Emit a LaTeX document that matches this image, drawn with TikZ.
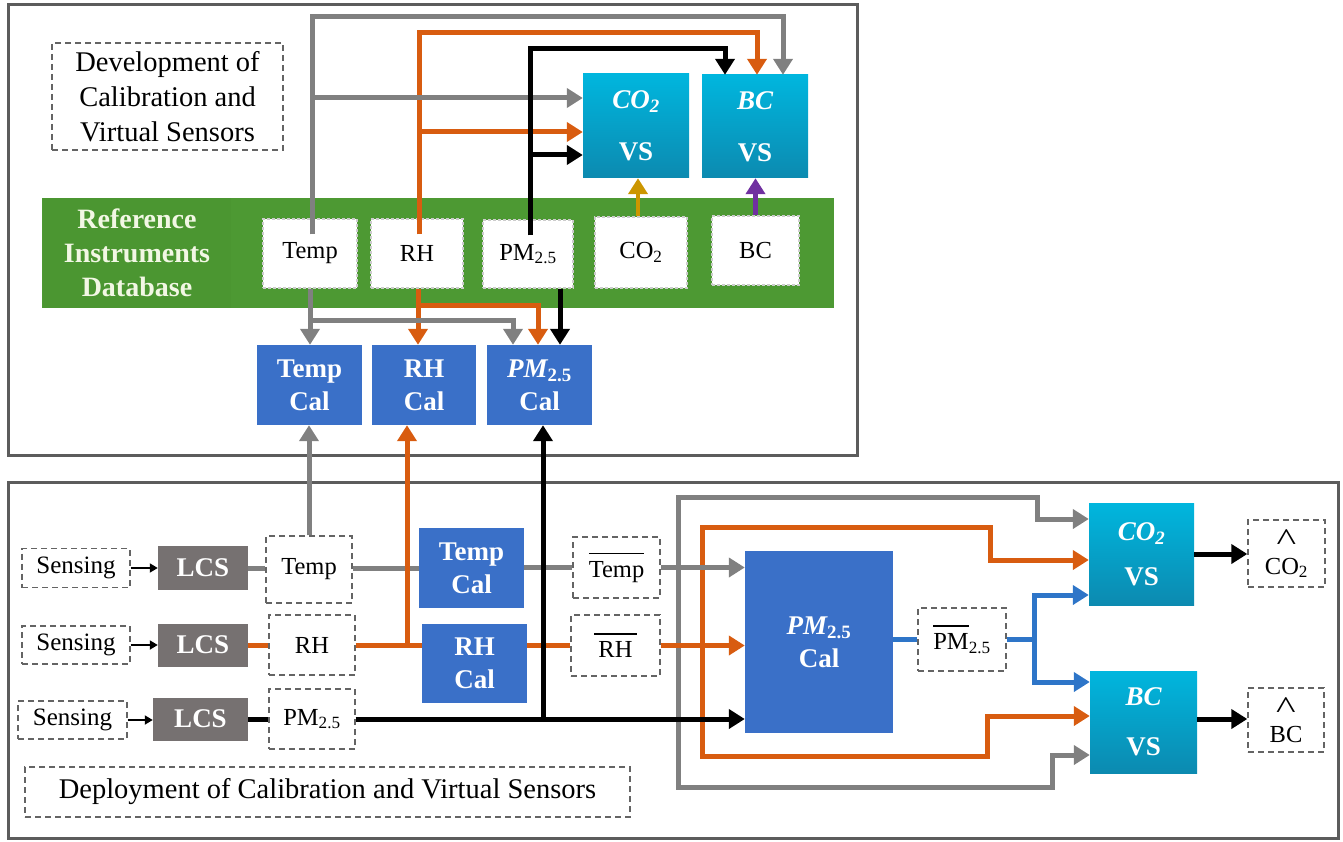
\documentclass[tikz,border=0pt]{standalone}
\usepackage{fontspec}
\setmainfont{Liberation Serif}
\usetikzlibrary{arrows.meta}
\definecolor{frameGray}{RGB}{92,92,92}
\definecolor{lineGray}{RGB}{128,128,128}
\definecolor{lineOrange}{RGB}{216,92,16}
\definecolor{calBlue}{RGB}{58,112,200}
\definecolor{vsTop}{RGB}{0,182,222}
\definecolor{vsBot}{RGB}{12,138,176}
\definecolor{lcsGray}{RGB}{118,113,113}
\definecolor{bandGreen}{RGB}{77,153,51}
\definecolor{bandGreenB}{RGB}{75,150,49}
\definecolor{refText}{RGB}{242,247,228}
\definecolor{arrGold}{RGB}{204,150,0}
\definecolor{arrPurple}{RGB}{112,48,160}
\definecolor{pmBlue}{RGB}{46,117,200}
\definecolor{dashGray}{RGB}{100,100,100}
\newcommand\ovtext[1]{\leavevmode\vbox{\hrule height 1.6pt\kern 7pt\hbox{#1}}}
\newcommand\bigcaret{\scalebox{1.7}[1.3]{\textasciicircum}}
\tikzset{
  frame/.style={draw=frameGray,line width=3pt},
  sz/.style 2 args={minimum width=#1,minimum height=#2},
  dbox/.style={draw=dashGray,dash pattern=on 6pt off 4pt,line width=1.4pt,fill=white,inner sep=0pt,align=center,font=\fontsize{24.5}{28}\selectfont},
  refbox/.style={draw=gray!40,dash pattern=on 3pt off 2pt,line width=1.3pt,fill=white,inner sep=0pt,align=center,font=\fontsize{24.5}{28}\selectfont},
  calbox/.style={fill=calBlue,text=white,inner sep=0pt,align=center,font=\fontsize{27}{33}\selectfont\bfseries},
  vsbox/.style={top color=vsTop,bottom color=vsBot,text=white,inner sep=0pt,align=center,font=\fontsize{27}{30}\selectfont\bfseries},
  lcsbox/.style={fill=lcsGray,text=white,inner sep=0pt,font=\fontsize{27}{30}\selectfont\bfseries},
  conn/.style={line width=5pt},
  arr/.style={-{Triangle[length=16pt,width=19pt]}},
  gconn/.style={conn,draw=lineGray},
  oconn/.style={conn,draw=lineOrange},
  kconn/.style={conn,draw=black},
  bconn/.style={conn,draw=pmBlue},
  smallarr/.style={line width=1.8pt,-{Triangle[length=8pt,width=9pt]}},
}
\begin{document}
\begin{tikzpicture}[x=1pt,y=-1pt]
\useasboundingbox (0,0) rectangle (1343,842);
% frames
\draw[frame] (8,5) rectangle (857,455);
\draw[frame] (8,482) rectangle (1338,838);

% ---------- top part ----------
\node[dbox,sz={231pt}{107pt},font=\fontsize{28.5}{35}\selectfont] (devLabel) at (167.5,96.5) {Development of\\Calibration and\\Virtual Sensors};
\node[fill=bandGreen,sz={792pt}{110pt},inner sep=0pt] (band) at (438,253) {};
\node[fill=bandGreenB,sz={188pt}{110pt},inner sep=0pt,text=refText,align=center,font=\fontsize{28}{34}\selectfont\bfseries] (refdb) at (137,253) {Reference\\Instruments\\Database};
\node[refbox,sz={94pt}{69pt}] (refTemp) at (310,253.5) {Temp};
\node[refbox,sz={92pt}{69pt}] (refRH) at (417,253.5) {RH};
\node[refbox,sz={90pt}{68pt}] (refPM) at (528,254) {PM\textsubscript{2.5}};
\node[refbox,sz={92pt}{71pt}] (refCO) at (641,252.5) {CO\textsubscript{2}};
\node[refbox,sz={87pt}{69pt}] (refBC) at (755.5,250.5) {BC};

\node[vsbox,sz={106pt}{104pt}] (covsT) at (636,126) {{\itshape CO\textsubscript{2}}\\[22pt]VS};
\node[vsbox,sz={106pt}{103pt}] (bcvsT) at (755,126.5) {{\itshape BC}\\[22pt]VS};

\node[calbox,sz={105pt}{80pt}] (tempCalT) at (309.5,385) {Temp\\Cal};
\node[calbox,sz={104pt}{80pt}] (rhCalT) at (424,385) {RH\\Cal};
\node[calbox,sz={105pt}{80pt}] (pmCalT) at (539.5,385) {{\itshape PM}\textsubscript{2.5}\\Cal};

% top connectors
\coordinate (oT) at (757,33);
\coordinate (oB) at (419,132);
\draw[oconn,arr] ([xshift=2pt,yshift=-16pt]refRH.north) |- (oT) -- (oT |- bcvsT.north);
\draw[oconn,arr] (oB) -- (oB -| covsT.west);
\coordinate (gT) at (783,17);
\coordinate (gB) at (312,98);
\draw[gconn,arr] ([xshift=2pt,yshift=-16pt]refTemp.north) |- (gT) -- (gT |- bcvsT.north);
\draw[gconn,arr] (gB) -- (gB -| covsT.west);
\coordinate (kT) at (725,49);
\coordinate (kB) at (530,155);
\draw[kconn,arr] ([xshift=2pt,yshift=-16pt]refPM.north) |- (kT) -- (kT |- bcvsT.north);
\draw[kconn,arr] (kB) -- (kB -| covsT.west);
\draw[line width=4.5pt,draw=arrGold,arr] ([xshift=-3pt]refCO.north) -- ([xshift=-3pt]refCO.north |- covsT.south);
\draw[line width=4.5pt,draw=arrPurple,arr] (refBC.north) -- (refBC.north |- bcvsT.south);

% below band
\coordinate (oM) at (418,305);
\coordinate (oM2) at (538,305);
\draw[oconn,arr] ([xshift=1pt]refRH.south) -- ([xshift=1pt]refRH.south |- rhCalT.north);
\draw[oconn,arr] (oM) -- (oM2) -- (oM2 |- pmCalT.north);
\coordinate (gM) at (310,320);
\coordinate (gM2) at (513,320);
\draw[gconn,arr] (refTemp.south) -- (refTemp.south |- tempCalT.north);
\draw[gconn,arr] (gM) -- (gM2) -- (gM2 |- pmCalT.north);
\draw[kconn,arr] ([xshift=32pt]refPM.south) -- ([xshift=32pt]refPM.south |- pmCalT.north);

% ---------- bottom part ----------
\node[dbox,sz={108pt}{39pt},font=\fontsize{25}{28}\selectfont] (sens1) at (76,568) {Sensing};
\node[dbox,sz={108pt}{38pt},font=\fontsize{25}{28}\selectfont] (sens2) at (76,645) {Sensing};
\node[dbox,sz={109pt}{38pt},font=\fontsize{25}{28}\selectfont] (sens3) at (72.5,720) {Sensing};
\node[lcsbox,sz={90pt}{44pt}] (lcs1) at (203,568) {LCS};
\node[lcsbox,sz={90pt}{43pt}] (lcs2) at (203,645) {LCS};
\node[lcsbox,sz={95pt}{43pt}] (lcs3) at (200.5,719) {LCS};
\node[dbox,sz={86pt}{67pt}] (lTemp) at (309,569.5) {Temp};
\node[dbox,sz={86pt}{60pt}] (lRH) at (312,645) {RH};
\node[dbox,sz={86pt}{60pt}] (lPM) at (312,719) {PM\textsubscript{2.5}};
\node[calbox,sz={105pt}{80pt}] (tempCalB) at (471.5,568) {Temp\\Cal};
\node[calbox,sz={105pt}{79pt}] (rhCalB) at (474.5,663.5) {RH\\Cal};
\node[dbox,sz={87pt}{61pt}] (tempBar) at (616.5,567.5) {\ovtext{Temp}};
\node[dbox,sz={89pt}{61pt}] (rhBar) at (615.5,645.5) {\ovtext{\,RH\,}};
\node[calbox,sz={148pt}{182pt}] (pmCalB) at (819,642) {{\itshape PM}\textsubscript{2.5}\\Cal};
\node[dbox,sz={88pt}{63pt}] (pmBar) at (962,639.5) {\ovtext{PM}\textsubscript{2.5}};
\node[vsbox,sz={105pt}{102pt}] (covsB) at (1141.5,554) {{\itshape CO\textsubscript{2}}\\[15pt]VS};
\node[vsbox,sz={107pt}{102pt}] (bcvsB) at (1143.5,722) {{\itshape BC}\\[20pt]VS};
\node[dbox,sz={77pt}{67pt},font=\fontsize{24.5}{24}\selectfont] (coHat) at (1286.5,553.5) {\bigcaret\\CO\textsubscript{2}};
\node[dbox,sz={76pt}{64pt},font=\fontsize{24.5}{24}\selectfont] (bcHat) at (1286,720) {\bigcaret\\BC};
\node[dbox,sz={605pt}{50pt},font=\fontsize{28.5}{32}\selectfont] (depLabel) at (327.5,792) {Deployment of Calibration and Virtual Sensors};

% sensing -> LCS
\draw[smallarr] (sens1.east) -- (sens1.east -| lcs1.west);
\draw[smallarr] (sens2.east) -- (sens2.east -| lcs2.west);
\draw[smallarr] (sens3.east) -- (sens3.east -| lcs3.west);

% loops
\coordinate (gJ) at (678,567.5);
\coordinate (gL1) at (678,497);
\coordinate (gL2) at (1037,497);
\coordinate (gL3) at (1037,519);
\coordinate (gL4) at (678,787);
\coordinate (gL5) at (1052,787);
\coordinate (gL6) at (1052,755);
\draw[gconn,arr] (gJ) -- (gL1) -- (gL2) -- (gL3) -- (gL3 -| covsB.west);
\draw[gconn,arr] (gJ) -- (gL4) -- (gL5) -- (gL6) -- (gL6 -| bcvsB.west);
\coordinate (oJ) at (702,645.5);
\coordinate (oL1) at (702,527);
\coordinate (oL2) at (990,527);
\coordinate (oL3) at (990,560);
\coordinate (oL4) at (702,756);
\coordinate (oL5) at (987,756);
\coordinate (oL6) at (987,716);
\draw[oconn,arr] (oJ) -- (oL1) -- (oL2) -- (oL3) -- (oL3 -| covsB.west);
\draw[oconn,arr] (oJ) -- (oL4) -- (oL5) -- (oL6) -- (oL6 -| bcvsB.west);

% row 1 (gray)
\draw[gconn] (lcs1.east) -- (lcs1.east -| lTemp.west);
\draw[gconn] (lTemp.east |- tempCalB.west) -- (tempCalB.west);
\draw[gconn] (tempCalB.east |- tempBar.west) -- (tempBar.west);
\draw[gconn,arr] (tempBar.east) -- (tempBar.east -| pmCalB.west);
\draw[gconn,arr] (lTemp.north) -- (lTemp.north |- tempCalT.south);
% row 2 (orange)
\draw[oconn] (lcs2.east) -- (lcs2.east -| lRH.west);
\draw[oconn] (lRH.east) -- (lRH.east -| rhCalB.west);
\draw[oconn] (rhCalB.east |- rhBar.west) -- (rhBar.west);
\draw[oconn,arr] (rhBar.east) -- (rhBar.east -| pmCalB.west);
\coordinate (oJb) at (407,645);
\draw[oconn,arr] (oJb) -- (oJb |- rhCalT.south);
% row 3 (black)
\draw[kconn] (lcs3.east) -- (lcs3.east -| lPM.west);
\draw[kconn,arr] (lPM.east) -- (lPM.east -| pmCalB.west);
\coordinate (kJb) at (543,719);
\draw[kconn,arr] (kJb) -- (kJb |- pmCalT.south);

% PM bar -> VS
\coordinate (bJ) at (1034,639.5);
\coordinate (bU) at (1034,595);
\coordinate (bD) at (1034,682);
\draw[bconn] (pmCalB.east |- pmBar.west) -- (pmBar.west);
\draw[bconn] (pmBar.east) -- (bJ);
\draw[bconn,arr] (bJ) -- (bU) -- (bU -| covsB.west);
\draw[bconn,arr] (bJ) -- (bD) -- (bD -| bcvsB.west);

% outputs
\draw[kconn,arr] (covsB.east) -- (covsB.east -| coHat.west);
\draw[kconn,arr] ([yshift=3pt]bcvsB.east) -- ([yshift=3pt]bcvsB.east -| bcHat.west);
\end{tikzpicture}
\end{document}
